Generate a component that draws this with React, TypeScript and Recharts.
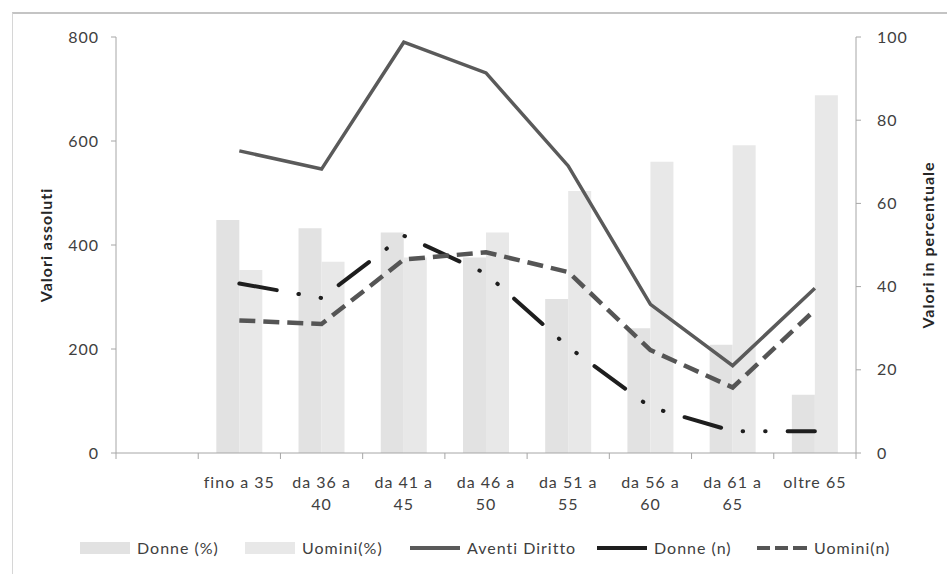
import React from 'react';
import { ComposedChart, Bar, Line, XAxis, YAxis, Legend } from 'recharts';

const categories = ['', 'fino a 35', 'da 36 a 40', 'da 41 a 45', 'da 46 a 50', 'da 51 a 55', 'da 56 a 60', 'da 61 a 65', 'oltre 65'];
const donnePct = [null, 56, 54, 53, 47, 37, 30, 26, 14];
const uominiPct = [null, 44, 46, 47, 53, 63, 70, 74, 86];
const aventiDiritto = [null, 581, 546, 790, 731, 552, 286, 168, 317];
const donneN = [null, 326, 298, 418, 345, 204, 88, 42, 42];
const uominiN = [null, 255, 248, 372, 386, 348, 198, 126, 275];
const leftTicks = [0, 200, 400, 600, 800];
const rightTicks = [0, 20, 40, 60, 80, 100];
const seriesNames = ['Donne (%)', 'Uomini(%)', 'Aventi Diritto', 'Donne (n)', 'Uomini(n)'];

const data = categories.map((name, i) => ({
  name,
  donnePct: donnePct[i],
  uominiPct: uominiPct[i],
  aventi: aventiDiritto[i],
  donneN: donneN[i],
  uominiN: uominiN[i],
}));

const FONT = 'Lato, "Open Sans", sans-serif';
const TEXT = '#404040';
const AXIS = '#a6a6a6';
const PLOT_W = 740;
const BW = PLOT_W / categories.length;
const LEGEND_ITEM_W = [165, 165, 187, 160, 160];

const XTick = (props: any) => {
  const { x, y, payload, index } = props;
  const label: string = payload.value || '';
  const words = label.split(' ');
  const lines = label.length > 9 ? [words.slice(0, -1).join(' '), words[words.length - 1]] : [label];
  return (
    <g>
      <line x1={x - BW / 2} x2={x - BW / 2} y1={y} y2={y + 6} stroke={AXIS} strokeWidth={1} />
      {index === categories.length - 1 && (
        <line x1={x + BW / 2} x2={x + BW / 2} y1={y} y2={y + 6} stroke={AXIS} strokeWidth={1} />
      )}
      <text textAnchor="middle" fill={TEXT} fontSize={16} letterSpacing={1} fontFamily={FONT}>
        {lines.map((l, i) => (
          <tspan key={i} x={x} y={y + 35 + i * 22}>{l}</tspan>
        ))}
      </text>
    </g>
  );
};

const AxisTitle = (dx: number, text: string) => (props: any) => {
  const vb = props.viewBox;
  const cx = vb.x + dx;
  const cy = vb.y + vb.height / 2;
  return (
    <text x={cx} y={cy} transform={`rotate(-90 ${cx} ${cy})`} textAnchor="middle" dominantBaseline="central"
      fill="#262626" fontSize={16} fontWeight={700} letterSpacing={1} fontFamily={FONT}>{text}</text>
  );
};

const LegendContent = (props: any) => {
  const payload = [...(props.payload || [])].sort(
    (a: any, b: any) => seriesNames.indexOf(a.value) - seriesNames.indexOf(b.value));
  return (
    <div style={{ display: 'flex', alignItems: 'center', fontFamily: FONT, fontSize: 16, letterSpacing: 1, color: TEXT }}>
      {payload.map((e: any, i: number) => {
        const isBar = e.type === 'rect';
        const dash = e.payload?.strokeDasharray;
        return (
          <div key={i} style={{ display: 'flex', alignItems: 'center', width: LEGEND_ITEM_W[i], whiteSpace: 'nowrap' }}>
            <svg width={50} height={14} style={{ marginRight: 7, flex: 'none' }}>
              {isBar ? (
                <rect x={0} y={1} width={50} height={12} fill={e.color} />
              ) : (
                <line x1={0} x2={50} y1={7} y2={7} stroke={e.color}
                  strokeWidth={4}
                  strokeDasharray={dash === '16 8' ? '13 5 13 5 5 0' : undefined} />
              )}
            </svg>
            <span>{e.value}</span>
          </div>
        );
      })}
    </div>
  );
};

export default function App() {
  return (
    <div style={{ position: 'absolute', left: 0, top: 0, width: 947, height: 574, background: '#fff', overflow: 'hidden' }}>
      <div style={{ position: 'absolute', left: 12, top: 12, width: 960, height: 560, borderTop: '2px solid #c4c4c4', borderLeft: '1px solid #d6d6d6', borderBottom: '1px solid #d6d6d6' }} />
      <div style={{ position: 'absolute', left: 0, top: 0 }}>
        <ComposedChart width={947} height={574} data={data} margin={{ top: 37, right: 0, bottom: 51, left: 0 }}
          barCategoryGap="22%" barGap={0}>
          <XAxis dataKey="name" height={70} interval={0} tickLine={false} tickSize={0} tickMargin={0}
            stroke={AXIS} tick={<XTick />} />
          <YAxis yAxisId="left" orientation="left" width={116} domain={[0, 800]} ticks={leftTicks}
            stroke={AXIS} tickSize={5} tickMargin={12}
            tick={{ fill: TEXT, fontSize: 16, letterSpacing: 1, fontFamily: FONT }}
            label={{ content: AxisTitle(45, 'Valori assoluti') }} />
          <YAxis yAxisId="right" orientation="right" width={91} domain={[0, 100]} ticks={rightTicks}
            stroke={AXIS} tickSize={5} tickMargin={16}
            tick={{ fill: TEXT, fontSize: 16, letterSpacing: 1, fontFamily: FONT, textAnchor: 'start' }}
            label={{ content: AxisTitle(71, 'Valori in percentuale') }} />
          <Bar yAxisId="right" dataKey="donnePct" name="Donne (%)" fill="#e2e2e2" isAnimationActive={false} legendType="rect" />
          <Bar yAxisId="right" dataKey="uominiPct" name="Uomini(%)" fill="#e8e8e8" isAnimationActive={false} legendType="rect" />
          <Line yAxisId="left" dataKey="aventi" name="Aventi Diritto" stroke="#5a5a5a" strokeWidth={3.5}
            dot={false} isAnimationActive={false} legendType="line" />
          <Line yAxisId="left" dataKey="donneN" name="Donne (n)" stroke="#1e1e1e" strokeWidth={4}
            strokeLinecap="round" strokeDasharray="38 22 0.5 22 0.5 22"
            dot={false} isAnimationActive={false} legendType="line" />
          <Line yAxisId="left" dataKey="uominiN" name="Uomini(n)" stroke="#555555" strokeWidth={4.5}
            strokeDasharray="16 8" dot={false} isAnimationActive={false} legendType="line" />
          <Legend verticalAlign="middle" align="center" layout="horizontal"
            wrapperStyle={{ position: 'absolute', left: 80, top: 538, width: 900 }}
            content={<LegendContent />} />
        </ComposedChart>
      </div>
    </div>
  );
}
